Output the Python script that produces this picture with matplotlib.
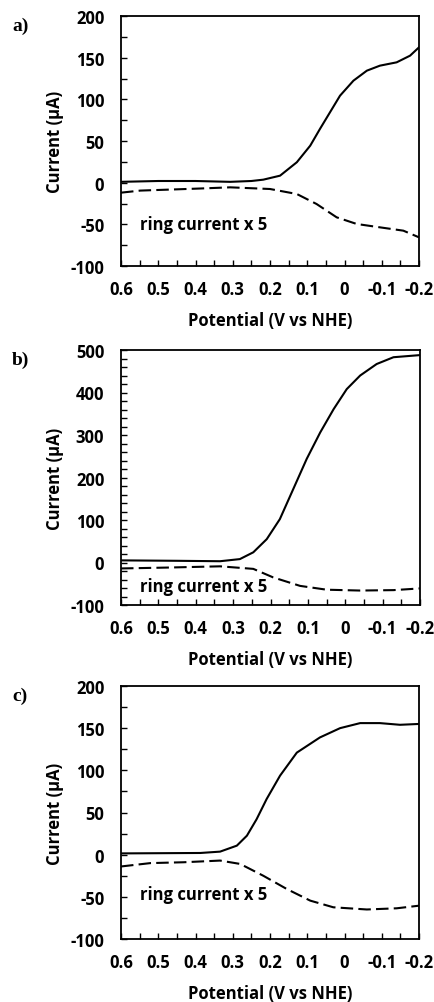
import numpy as np
import matplotlib
matplotlib.use('Agg')
import matplotlib.pyplot as plt
from matplotlib.ticker import MultipleLocator, FuncFormatter

plt.rcParams['axes.unicode_minus'] = False

# Данные (потенциал, В vs NHE; ток, мкА)
a_disk_x = [0.6, 0.5, 0.4, 0.307, 0.25, 0.218, 0.173, 0.128, 0.092, 0.066, 0.039, 0.012, -0.024, -0.060, -0.095, -0.140, -0.176, -0.2]
a_disk_y = [1, 2, 2, 1, 2, 3.6, 8.4, 24.5, 44.4, 64.4, 84.4, 104.4, 122.4, 134.4, 140.4, 144.4, 152.4, 162.4]
a_ring_x = [0.6, 0.548, 0.45, 0.387, 0.307, 0.2, 0.128, 0.075, 0.021, -0.033, -0.095, -0.158, -0.2]
a_ring_y = [-12, -9.5, -8, -7, -5.6, -7.6, -13.6, -25.6, -41.6, -49.6, -53.6, -57.6, -65.6]

b_disk_x = [0.6, 0.45, 0.335, 0.282, 0.246, 0.210, 0.175, 0.139, 0.103, 0.067, 0.031, -0.004, -0.040, -0.084, -0.129, -0.2]
b_disk_y = [5, 4, 3, 8, 24, 55, 102, 173, 244, 306, 361, 408, 440, 467, 483, 488]
b_ring_x = [0.6, 0.48, 0.335, 0.246, 0.193, 0.121, 0.050, -0.040, -0.129, -0.2]
b_ring_y = [-14, -12, -9, -15, -35, -55, -64, -66, -65, -61]

c_disk_x = [0.6, 0.387, 0.334, 0.289, 0.262, 0.236, 0.209, 0.173, 0.128, 0.066, 0.012, -0.042, -0.095, -0.149, -0.2]
c_disk_y = [1.5, 2, 3.6, 10.7, 22.5, 42, 66, 93.7, 121, 139, 150, 156, 156, 154, 155]
c_ring_x = [0.6, 0.521, 0.432, 0.334, 0.280, 0.218, 0.155, 0.092, 0.030, -0.060, -0.140, -0.2]
c_ring_y = [-14, -10, -9, -7, -11, -25, -40.7, -54.5, -62.4, -65, -63.6, -60.5]

panels = [
    ('a)', a_disk_x, a_disk_y, a_ring_x, a_ring_y, (-100, 200), 50, 25, -49),
    ('b)', b_disk_x, b_disk_y, b_ring_x, b_ring_y, (-100, 500), 100, 20, -55),
    ('c)', c_disk_x, c_disk_y, c_ring_x, c_ring_y, (-100, 200), 50, 25, -47),
]

# Положение осей в пикселях (лево, верх, право, низ)
boxes = [(121, 17, 419, 267), (121, 351, 420, 606), (121, 687, 419, 940)]
W, H = 435, 1003

font = 'Open Sans'
fs = 12
fig = plt.figure(figsize=(W / 100, H / 100), dpi=100)

for (lab, dx, dy, rx, ry, ylim, ymaj, ymin, ring_y), (l, t, r, b) in zip(panels, boxes):
    ax = fig.add_axes([l / W, 1 - b / H, (r - l) / W, (b - t) / H])
    ax.plot(dx, dy, '-', color='black', lw=1.5)
    ax.plot(rx, ry, '--', color='black', lw=1.5, dashes=(6, 2.5))
    ax.set_xlim(0.6, -0.2)
    ax.set_ylim(*ylim)
    ax.xaxis.set_major_locator(MultipleLocator(0.1))
    ax.xaxis.set_minor_locator(MultipleLocator(0.05))
    ax.yaxis.set_major_locator(MultipleLocator(ymaj))
    ax.yaxis.set_minor_locator(MultipleLocator(ymin))
    ax.xaxis.set_major_formatter(FuncFormatter(lambda v, p: '0' if abs(v) < 1e-9 else ('%g' % round(v, 2))))
    ax.tick_params(axis='both', which='both', direction='in', length=4, width=1)
    ax.tick_params(axis='x', pad=10)
    ax.tick_params(axis='y', pad=12)
    for s in ax.spines.values():
        s.set_linewidth(1.3)
    for t_ in ax.get_xticklabels() + ax.get_yticklabels():
        t_.set_fontfamily(font)
        t_.set_fontweight('bold')
        t_.set_fontsize(fs)
    ax.text(0.55, ring_y, 'ring current x 5', fontfamily=font, fontweight='bold',
            fontsize=fs, va='center', ha='left')
    # подписи осей и буква панели
    fig.text(55 / W, 1 - (t + b) / 2 / H, 'Current (µA)', rotation=90, ha='center', va='center',
             fontfamily=font, fontweight='bold', fontsize=fs)
    fig.text((l + r) / 2 / W, 1 - (b + 54) / H, 'Potential (V vs NHE)', ha='center', va='center',
             fontfamily=font, fontweight='bold', fontsize=fs)
    fig.text(12 / W, 1 - (t + 9) / H, lab, ha='left', va='center',
             fontfamily='Liberation Serif', fontweight='bold', fontsize=14)

fig.savefig('out.png', dpi=100)
